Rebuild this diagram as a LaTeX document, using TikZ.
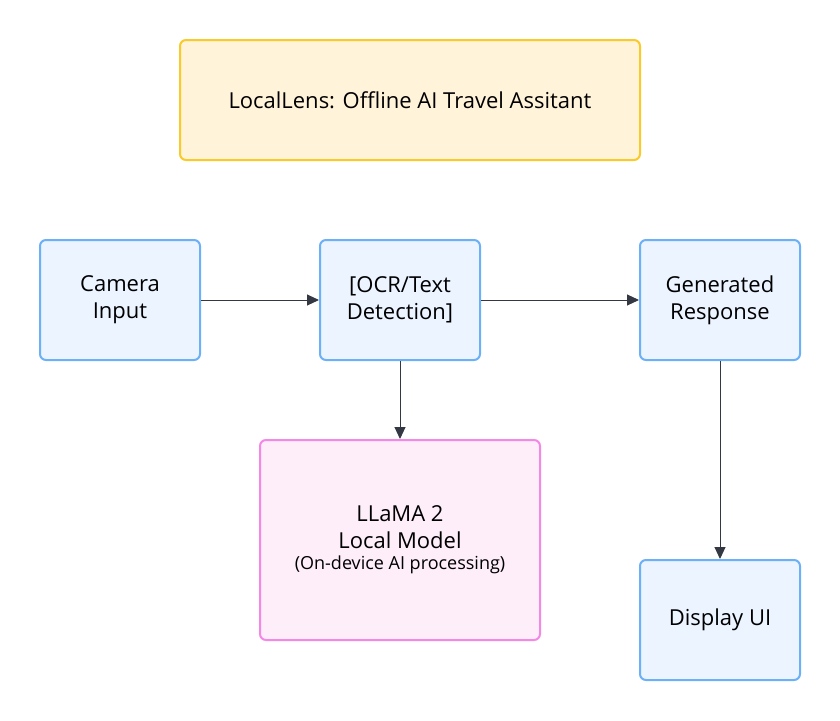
\documentclass[tikz,border=0pt]{standalone}
\usepackage{fontspec}
\setmainfont{Open Sans}
\usepackage{xcolor}
\usepackage{tikz}
\usetikzlibrary{arrows.meta}
\usetikzlibrary{positioning}

\definecolor{boxblue}{HTML}{EBF4FF}
\definecolor{lineblue}{HTML}{6CB0F7}
\definecolor{boxyellow}{HTML}{FFF3DA}
\definecolor{lineyellow}{HTML}{F9CB28}
\definecolor{boxpink}{HTML}{FDEEFA}
\definecolor{linepink}{HTML}{F588E6}
\definecolor{arrowgray}{HTML}{333842}

\tikzset{
  stagebox/.style={draw=lineblue, fill=boxblue, line width=2pt, rounded corners=6pt,
    minimum width=160pt, minimum height=120pt, align=center,
    font=\fontsize{22}{27}\selectfont},
  flow/.style={arrowgray, line width=1pt, -{Triangle[length=12pt,width=11pt]}}
}

\begin{document}
\begin{tikzpicture}[x=1pt,y=-1pt]
\useasboundingbox (0,0) rectangle (840,720);
\node[draw=lineyellow, fill=boxyellow, line width=2pt, rounded corners=6pt,
  minimum width=460pt, minimum height=120pt, font=\fontsize{22}{27}\selectfont]
  (title) at (410,100) {LocalLens: Offline AI Travel Assitant};
\node[stagebox] (camera) at (120,300) {Camera\\Input};
\node[stagebox] (ocr) at (400,300) {[OCR/Text\\Detection]};
\node[stagebox] (response) at (720,300) {Generated\\Response};
\node[draw=linepink, fill=boxpink, line width=2pt, rounded corners=6pt,
  minimum width=280pt, minimum height=200pt, align=center,
  font=\fontsize{22}{27}\selectfont]
  (llama) at (400,540) {LLaMA 2\\Local Model\\[-6pt]{\fontsize{18}{20}\selectfont (On-device AI processing)}};
\node[stagebox] (display) at (720,620) {Display UI};
\draw[flow] (camera) -- (ocr);
\draw[flow] (ocr) -- (response);
\draw[flow] (ocr) -- (llama);
\draw[flow] (response) -- (display);
\end{tikzpicture}
\end{document}
